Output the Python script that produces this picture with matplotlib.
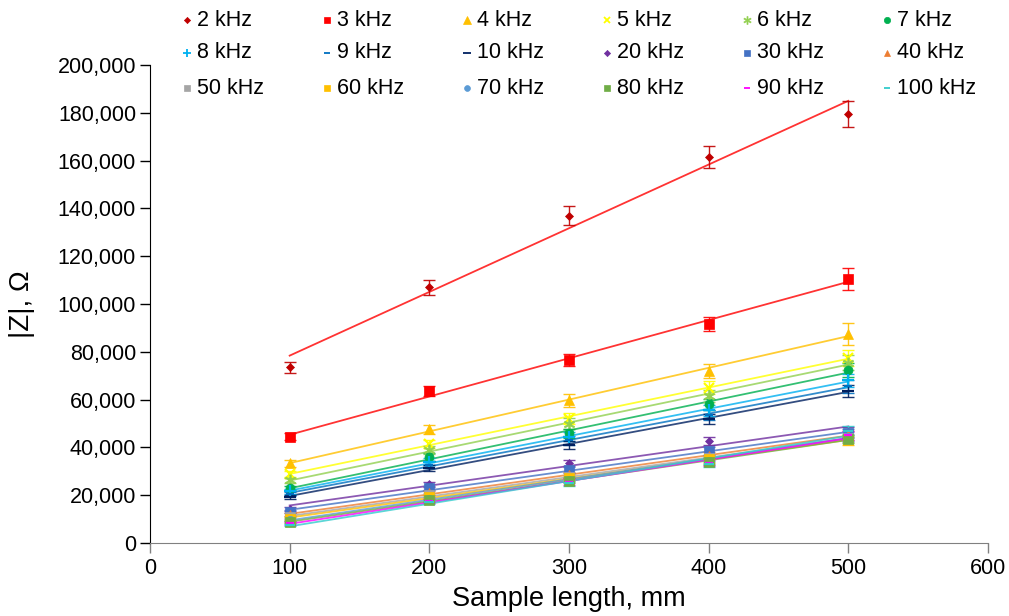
import numpy as np
import matplotlib
matplotlib.use("Agg")
import matplotlib.pyplot as plt
from matplotlib.lines import Line2D
from matplotlib.ticker import FuncFormatter, MultipleLocator

plt.rcParams['font.family'] = ['Liberation Sans', 'DejaVu Sans']

length_mm = [100, 200, 300, 400, 500]

labels = ["2 kHz", "3 kHz", "4 kHz", "5 kHz", "6 kHz", "7 kHz",
          "8 kHz", "9 kHz", "10 kHz", "20 kHz", "30 kHz", "40 kHz",
          "50 kHz", "60 kHz", "70 kHz", "80 kHz", "90 kHz", "100 kHz"]

z2 = [73500, 107000, 137000, 161500, 179500]
z3 = [44500, 63500, 76500, 91500, 110500]
z4 = [33300, 47500, 59700, 72000, 87500]
z5 = [29000, 41500, 52000, 65000, 77500]
z6 = [26200, 38800, 50000, 61500, 75500]
z7 = [23000, 36000, 46000, 58000, 72500]
z8 = [21700, 34000, 44500, 55500, 68000]
z9 = [20600, 32800, 43000, 53500, 65500]
z10 = [19300, 31500, 41000, 52000, 63500]
z20 = [14200, 24500, 33500, 42500, 46500]
z30 = [13000, 23000, 30500, 38500, 46000]
z40 = [11800, 21000, 28500, 36500, 45000]
z50 = [11000, 20000, 27500, 35500, 44000]
z60 = [10200, 19300, 27000, 35000, 43000]
z70 = [9500, 18500, 26500, 34500, 44500]
z80 = [8800, 17800, 26000, 34000, 43500]
z90 = [8200, 17500, 25500, 33500, 45000]
z100 = [7600, 17000, 25000, 33000, 47000]

e2 = [2200, 3200, 4000, 4500, 5600]
e3 = [1500, 2000, 2500, 3000, 4500]
e4 = [1500, 2000, 2700, 3000, 4500]
e5 = [1300, 1800, 2300, 2800, 3300]
e6 = [1200, 1700, 2200, 2600, 3200]
e7 = [1000, 1500, 1900, 2400, 3000]
e8 = [1000, 1400, 1800, 2300, 2800]
e9 = [900, 1400, 1800, 2200, 2700]
e10 = [900, 1300, 1700, 2100, 2600]
e20 = [700, 1000, 1400, 1700, 2000]
e30 = [600, 900, 1200, 1500, 1900]
e40 = [600, 900, 1200, 1500, 1800]
e50 = [500, 800, 1100, 1400, 1800]
e60 = [500, 800, 1100, 1400, 1800]
e70 = [500, 800, 1100, 1400, 1800]
e80 = [500, 800, 1100, 1400, 1800]
e90 = [500, 800, 1100, 1400, 1800]
e100 = [500, 800, 1100, 1400, 1800]

values = [z2, z3, z4, z5, z6, z7, z8, z9, z10, z20, z30, z40, z50, z60, z70, z80, z90, z100]
errors = [e2, e3, e4, e5, e6, e7, e8, e9, e10, e20, e30, e40, e50, e60, e70, e80, e90, e100]

colors = ["#C00000", "#FF0000", "#FFC000", "#FFFF00", "#92D050", "#00B050",
          "#00B0F0", "#0070C0", "#002060", "#7030A0", "#4472C4", "#ED7D31",
          "#A5A5A5", "#FFC000", "#5B9BD5", "#70AD47", "#FF00FF", "#33CCCC"]
line_colors = ["#FF0000"] + colors[1:]
markers = ["D", "s", "^", "x", "$\u2217$", "o", "+", "_", "_", "D", "s", "^",
           "s", "s", "o", "s", "_", "_"]
msizes = [4.5, 7, 7.5, 7, 8, 6.5, 8, 6, 8, 4.5, 6.5, 6.5, 6.5, 6.5, 6, 6.5, 6, 7]

fig = plt.figure(figsize=(10.09, 6.16), dpi=100)
ax = fig.add_axes([150/1009, 1-543/616, (988-150)/1009, (543-65)/616])

x = np.array(length_mm, dtype=float)
xl = np.array([x.min(), x.max()])
for i, (vals, errs) in enumerate(zip(values, errors)):
    y = np.array(vals, dtype=float)
    k, b = np.polyfit(x, y, 1)
    ax.plot(xl, k*xl + b, color=line_colors[i], lw=1.3, alpha=0.8, zorder=2)
    ax.errorbar(x, y, yerr=errs, fmt='none', ecolor=colors[i], elinewidth=1.0,
                capsize=4, capthick=1.0, zorder=3, alpha=0.9)
    mw = 1.6 if markers[i] in ("x", "+", "_") else 0.5
    ax.plot(x, y, linestyle='none', marker=markers[i], ms=msizes[i],
            color=colors[i], mec=colors[i], mew=mw, zorder=4)

ax.set_xlim(0, 600)
ax.set_ylim(0, 200000)
ax.xaxis.set_major_locator(MultipleLocator(100))
ax.yaxis.set_major_locator(MultipleLocator(20000))
ax.yaxis.set_major_formatter(FuncFormatter(lambda v, p: f"{int(v):,}"))
for s in ("top", "right"):
    ax.spines[s].set_visible(False)
ax.spines["left"].set_color("black")
ax.spines["bottom"].set_color("#808080")
ax.tick_params(axis='y', direction='out', length=7, colors='black', labelsize=15.5, width=1, pad=3)
ax.tick_params(axis='x', direction='out', length=7, color='#808080', labelcolor='black',
               labelsize=15.5, width=1)
ax.set_xlabel("Sample length, mm", fontsize=19.5, labelpad=5)
ax.set_ylabel("|Z|, \u03a9", fontsize=20, labelpad=16)

# legend, 3 rows x 6 columns, row-major order
W, H = 1009.0, 616.0
row_y = [20, 53, 88]
for i, lab in enumerate(labels):
    r, c = divmod(i, 6)
    mx = 187 + 140*c
    ty = row_y[r]
    mw = 1.3 if markers[i] in ("x", "+", "_") else 0.5
    h = Line2D([mx/W], [1 - ty/H], transform=fig.transFigure, linestyle='none',
               marker=markers[i], ms=msizes[i]*0.7, color=colors[i],
               mec=colors[i], mew=mw)
    fig.add_artist(h)
    fig.text((mx + 10)/W, 1 - ty/H, lab, fontsize=15.5, va='center', ha='left')

fig.savefig("out.png", dpi=100)
